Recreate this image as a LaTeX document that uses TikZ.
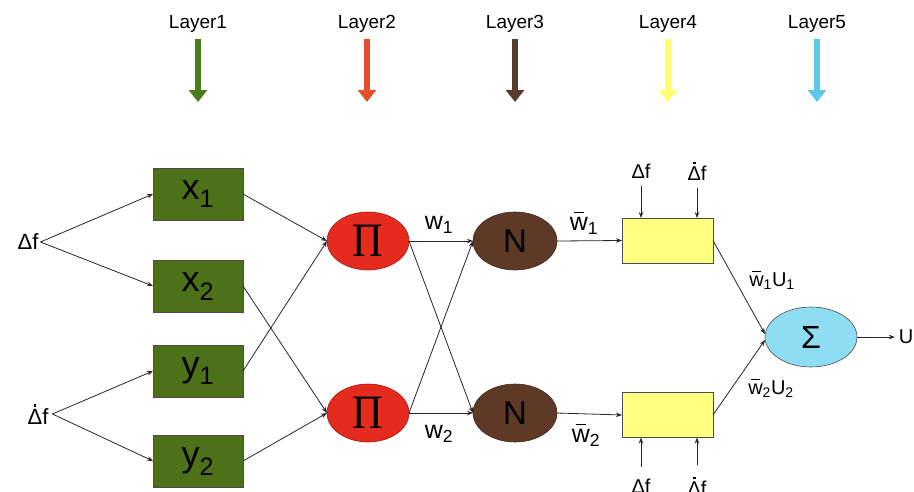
\documentclass[tikz,border=0pt]{standalone}
\usepackage{fontspec}
\setmainfont{Liberation Sans}
\newfontfamily\pifont{Liberation Serif}
\usetikzlibrary{arrows.meta,shapes.geometric}

% Delta f with a dot above the Delta
\newcommand\dotdf{\makebox[0pt][l]{\hspace{0.28em}\rule[0.8em]{0.12em}{0.12em}}Δf}
% barred w
\newcommand\wb{\makebox[0pt][l]{\hspace{0.16em}\rule[0.7em]{0.42em}{0.07em}}w}

\definecolor{fuzgreen}{HTML}{4E7018}
\definecolor{prodred}{HTML}{E52A1E}
\definecolor{normbrown}{HTML}{5E3A26}
\definecolor{consyellow}{HTML}{FFFF80}
\definecolor{sumcyan}{HTML}{8FDDF3}
\definecolor{arrgreen}{HTML}{4A7A1A}
\definecolor{arrred}{HTML}{E0502A}
\definecolor{arrbrown}{HTML}{5A3A2A}
\definecolor{arryellow}{HTML}{FFFF70}
\definecolor{arrcyan}{HTML}{5BC8EA}

\begin{document}
\begin{tikzpicture}[x=1pt,y=-1pt,
  every node/.style={inner sep=0pt,outer sep=0pt},
  conn/.style={draw=black!85,line width=0.8pt,-{Stealth[length=6pt,width=4.5pt]}},
  fuzbox/.style={rectangle,draw=black!70,line width=0.7pt,fill=fuzgreen,
    minimum width=90pt,minimum height=52pt,font=\fontsize{36}{38}\selectfont},
  prodnode/.style={ellipse,draw=prodred!70!black,line width=0.6pt,fill=prodred,
    minimum width=82pt,minimum height=58pt,font=\pifont\fontsize{48}{50}\selectfont},
  normnode/.style={ellipse,draw=normbrown!70!black,line width=0.6pt,fill=normbrown,
    minimum width=84pt,minimum height=58pt,font=\fontsize{33}{35}\selectfont},
  consbox/.style={rectangle,draw=black!70,line width=0.7pt,fill=consyellow,
    minimum width=91pt,minimum height=45pt},
  sumnode/.style={ellipse,draw=black!70,line width=0.6pt,fill=sumcyan,
    minimum width=92pt,minimum height=60pt,font=\fontsize{32}{34}\selectfont},
  lbl/.style={font=\fontsize{20}{22}\selectfont},
  inlbl/.style={font=\fontsize{22}{24}\selectfont},
  wlbl/.style={font=\fontsize{25}{27}\selectfont},
  layerlbl/.style={font=\fontsize{19}{21}\selectfont},
  layerarrow/.style={line width=6pt,-{Triangle[length=12pt,width=18pt]}}
]
\useasboundingbox (0,0) rectangle (914,491);

% layer headings
\foreach \n/\x/\c in {1/198/arrgreen,2/367/arrred,3/515/arrbrown,4/668/arryellow,5/817/arrcyan}{
  \node[layerlbl] (L\n) at (\x,24) {Layer\n};
  \coordinate (T\n) at (\x,102);
  \draw[layerarrow,draw=\c,fill=\c] ([yshift=-6pt]L\n.south) -- (T\n);
}

% inputs
\node[inlbl,inner sep=2pt] (dfa) at (28,242) {Δf};
\node[inlbl,inner sep=4pt] (dfb) at (38,414) {\dotdf};

% layer 1
\node[fuzbox] (x1) at (198,194) {x\textsubscript{1}};
\node[fuzbox] (x2) at (198,286) {x\textsubscript{2}};
\node[fuzbox] (y1) at (198,371) {y\textsubscript{1}};
\node[fuzbox] (y2) at (198,461) {y\textsubscript{2}};

% layer 2
\node[prodnode] (p1) at (368,241) {\scalebox{0.88}[1]{Π}};
\node[prodnode] (p2) at (368,413) {\scalebox{0.88}[1]{Π}};

% layer 3
\node[normnode] (n1) at (515,241) {N};
\node[normnode] (n2) at (515,413) {N};

% layer 4
\node[consbox] (c1) at (667.5,240.5) {};
\node[consbox] (c2) at (667.5,415) {};

% layer 5
\node[sumnode] (s) at (811,337) {Σ};
\node[lbl] (u) at (906,337) {U};

% consequent inputs
\node[lbl] (ta) at (641,171) {Δf};
\node[lbl] (tb) at (697,171) {\dotdf};
\node[lbl] (ba) at (641,486) {Δf};
\node[lbl] (bb) at (697,486) {\dotdf};

% connectors
\draw[conn] (dfa.east) -- (x1.west);
\draw[conn] (dfa.east) -- (x2.west);
\draw[conn] (dfb.east) -- (y1.west);
\draw[conn] (dfb.east) -- (y2.west);

\draw[conn] (x1.east) -- (p1.west);
\draw[conn] (y1.east) -- (p1.west);
\draw[conn] (x2.east) -- (p2.west);
\draw[conn] (y2.east) -- (p2.west);

\draw[conn] (p1.east) -- (n1.west);
\draw[conn] (p2.east) -- (n2.west);
\draw[conn] (p1.east) -- (n2.west);
\draw[conn] (p2.east) -- (n1.west);
\node[wlbl] (w1) at (439,225) {w\textsubscript{1}};
\node[wlbl] (w2) at (439,434) {w\textsubscript{2}};

\draw[conn] (n1.east) -- (c1.west);
\draw[conn] (n2.east) -- (c2.west);
\node[wlbl] (wn1) at (584,223) {\wb\textsubscript{1}};
\node[wlbl] (wn2) at (586,435) {\wb\textsubscript{2}};

\draw[conn] ([yshift=-8pt]ta.south) -- (ta.south |- c1.north);
\draw[conn] ([yshift=-8pt]tb.south) -- (tb.south |- c1.north);
\draw[conn] ([yshift=12pt]ba.north) -- (ba.north |- c2.south);
\draw[conn] ([yshift=12pt]bb.north) -- (bb.north |- c2.south);

\draw[conn] (c1.east) -- ([yshift=3pt]s.west);
\draw[conn] (c2.east) -- ([yshift=-3pt]s.west);
\node[lbl] (l1) at (772,280) {\wb\textsubscript{1}U\textsubscript{1}};
\node[lbl] (l2) at (771,388) {\wb\textsubscript{2}U\textsubscript{2}};

\draw[conn] (s.east) -- ([xshift=-4pt]u.west);
\end{tikzpicture}
\end{document}
